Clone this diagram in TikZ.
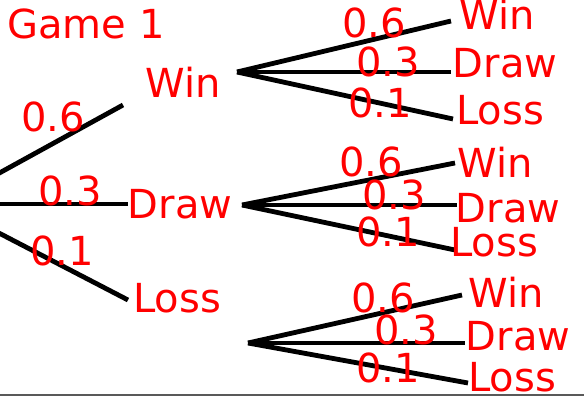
\documentclass[tikz,border=0pt]{standalone}
\usepackage{fontspec}
\setmainfont{DejaVu Sans}
\usetikzlibrary{positioning}
\begin{document}
\begin{tikzpicture}[x=0.5pt,y=-0.5pt,
	br/.style={line width=2.4pt},
	lbl/.style={text=red,inner sep=0pt,font=\fontsize{20}{24}\selectfont}]
			
			\useasboundingbox (0,0) rectangle (584,396);
			\clip (0,0) rectangle (584,396);
			
			\node[lbl] (game) at (86,24) {Game 1};
			
			% first game
			\coordinate (root) at (-57,204);
			\coordinate (e1) at (123,105);
			\coordinate (e2) at (128,204);
			\coordinate (e3) at (128,300);
			\node[lbl] (w) at (183,82) {Win};
			\node[lbl] (d) at (180,204) {Draw};
			\node[lbl] (l) at (177,298) {Loss};
			
			\draw[br] (root)--(e1);
			\draw[br] (root)--(e2);
			\draw[br] (root)--(e3);
			\node[lbl] (p1) at (53,117) {0.6};
			\node[lbl] (p2) at (70,191) {0.3};
			\node[lbl] (p3) at (62,251) {0.1};
			
			% after a win
			\coordinate (sw) at (237,72);
			\coordinate (sw1) at (451,21);
			\coordinate (sw2) at (451,72);
			\coordinate (sw3) at (453,119);
			\draw[br] (sw)--(sw1);
			\draw[br] (sw)--(sw2);
			\draw[br] (sw)--(sw3);
			\node[lbl] (ww) at (497,14) {Win};
			\node[lbl] (wd) at (505,63) {Draw};
			\node[lbl] (wl) at (500,110) {Loss};
			\node[lbl] (pw1) at (374,23) {0.6};
			\node[lbl] (pw2) at (388,62) {0.3};
			\node[lbl] (pw3) at (380,103) {0.1};
			
			% after a draw
			\coordinate (sd) at (242,205);
			\coordinate (sd1) at (455,163);
			\coordinate (sd2) at (457,205);
			\coordinate (sd3) at (455,250);
			\draw[br] (sd)--(sd1);
			\draw[br] (sd)--(sd2);
			\draw[br] (sd)--(sd3);
			\node[lbl] (dw) at (495,162) {Win};
			\node[lbl] (dd) at (508,208) {Draw};
			\node[lbl] (dl) at (494,242) {Loss};
			\node[lbl] (pd1) at (371,162) {0.6};
			\node[lbl] (pd2) at (394,195) {0.3};
			\node[lbl] (pd3) at (388,232) {0.1};
			
			% after a loss
			\coordinate (sl) at (248,343);
			\coordinate (sl1) at (462,295);
			\coordinate (sl2) at (465,343);
			\coordinate (sl3) at (468,383);
			\draw[br] (sl)--(sl1);
			\draw[br] (sl)--(sl2);
			\draw[br] (sl)--(sl3);
			\node[lbl] (lw) at (506,292) {Win};
			\node[lbl] (ld) at (518,336) {Draw};
			\node[lbl] (ll) at (512,377) {Loss};
			\node[lbl] (pl1) at (383,298) {0.6};
			\node[lbl] (pl2) at (406,330) {0.3};
			\node[lbl] (pl3) at (388,368) {0.1};
			
			\draw[line width=1.2pt,black!65] (0,395)--(584,395);
			
		\end{tikzpicture}
\end{document}
